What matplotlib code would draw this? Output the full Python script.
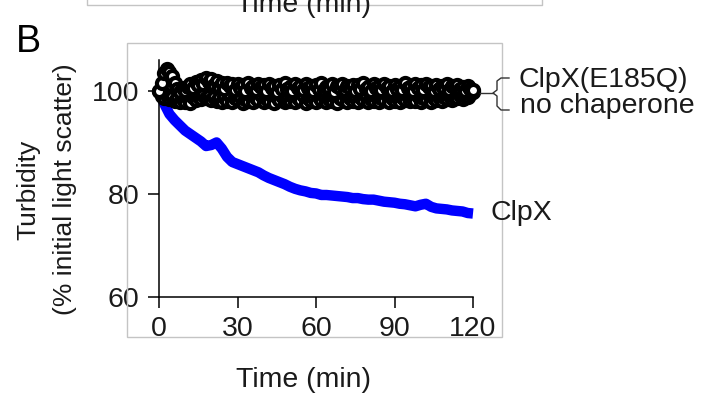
import matplotlib
matplotlib.use("Agg")
import matplotlib.pyplot as plt
from matplotlib.lines import Line2D
from matplotlib.patches import Rectangle
import numpy as np

plt.rcParams['font.family'] = ['Liberation Sans', 'DejaVu Sans']

# ---------------- data ----------------
time_black = list(range(0, 121))
clpx_e185q = [
    100.0, 101.6, 103.4, 104.2, 103.6, 102.9, 101.5, 100.4, 99.8, 100.6, 99.9,
    100.8, 101.3, 100.6, 101.7, 101.1, 102.1, 101.4, 102.5, 101.8, 102.3,
    101.2, 101.9, 100.7, 101.5, 100.4, 101.6, 100.9, 101.3, 100.2, 101.4,
    100.6, 101.2, 99.9, 101.5, 100.5, 101.0, 100.1, 101.3, 100.7, 101.1,
    100.0, 101.4, 100.6, 100.9, 99.8, 101.2, 100.4, 101.5, 100.3, 100.8,
    99.9, 101.3, 100.5, 101.0, 100.2, 101.4, 100.6, 100.9, 99.9, 101.2,
    100.4, 101.5, 100.1, 100.8, 100.5, 101.3, 99.8, 101.0, 100.6, 101.4,
    100.2, 100.9, 100.5, 101.2, 99.9, 101.1, 100.4, 101.5, 100.3, 100.8,
    100.0, 101.3, 100.6, 101.0, 100.2, 101.4, 100.5, 100.9, 99.9, 101.2,
    100.4, 101.0, 100.1, 101.5, 100.6, 100.8, 100.0, 101.3, 100.5, 101.1,
    100.2, 101.4, 100.7, 100.9, 99.9, 101.2, 100.4, 101.0, 100.6, 101.3,
    100.1, 100.9, 100.5, 101.2, 100.3, 100.8, 100.0, 101.0, 100.4, 100.2,
]
no_chaperone = [
    100.0, 99.0, 98.6, 99.3, 98.4, 98.9, 98.1, 98.7, 97.8, 98.5, 97.9,
    98.6, 97.7, 98.8, 98.2, 99.1, 98.4, 99.3, 98.6, 99.0, 98.3,
    98.9, 98.0, 98.7, 97.8, 98.9, 98.1, 99.0, 97.9, 98.6, 98.2,
    99.1, 97.7, 98.5, 98.0, 99.0, 97.8, 98.7, 98.3, 99.2, 97.9,
    98.6, 98.1, 99.0, 97.6, 98.8, 98.2, 99.1, 97.9, 98.5, 98.0,
    99.0, 97.8, 98.7, 98.3, 99.2, 97.7, 98.6, 98.1, 98.9, 97.9,
    98.8, 98.2, 99.1, 97.8, 98.5, 98.0, 99.0, 97.7, 98.7, 98.4,
    99.2, 97.9, 98.6, 98.1, 98.9, 97.8, 98.8, 98.3, 99.1, 97.9,
    98.5, 98.0, 99.0, 97.8, 98.7, 98.2, 99.2, 97.9, 98.6, 98.1,
    98.9, 97.8, 98.8, 98.3, 99.1, 98.0, 98.5, 98.1, 99.0, 97.9,
    98.7, 98.4, 99.2, 97.9, 98.6, 98.2, 98.9, 98.1, 98.8, 98.5,
    99.2, 98.3, 98.7, 98.6, 99.3, 98.5, 99.0, 98.8, 99.4, 99.8,
]
time_blue = list(range(0, 121, 2))
clpx = [
    100.0, 97.5, 95.5, 94.3, 93.3, 92.3, 91.6, 90.9, 90.2, 89.3,
    89.5, 90.0, 88.8, 87.2, 86.2, 85.8, 85.4, 85.0, 84.6, 84.2,
    83.6, 83.1, 82.7, 82.3, 81.9, 81.4, 81.0, 80.7, 80.5, 80.2,
    80.1, 79.8, 79.8, 79.7, 79.6, 79.5, 79.4, 79.2, 79.2, 79.0,
    78.9, 78.9, 78.7, 78.5, 78.4, 78.3, 78.1, 78.0, 77.8, 77.6,
    77.9, 78.1, 77.5, 77.2, 77.1, 77.0, 76.8, 76.7, 76.6, 76.3,
    76.2,
]
xticks = [0, 30, 60, 90, 120]
yticks = [60, 80, 100]

# ---------------- figure ----------------
W, H = 707, 394
fig = plt.figure(figsize=(W / 100, H / 100), dpi=100)

def fx(x):
    return x / W

def fy(y):
    return 1 - y / H

TXT = '#1a1a1a'
FS = 20.5      # horizontal text
FSV = 19       # vertical text

# gray panel boxes
fig.add_artist(Line2D([fx(87), fx(87), fx(542), fx(542)], [fy(-2), fy(5), fy(5), fy(-2)],
                      color='#c4c4c4', lw=1.0, transform=fig.transFigure))
fig.add_artist(Rectangle((fx(127), fy(337)), fx(502) - fx(127), fy(43) - fy(337),
                         fill=False, ec='#c4c4c4', lw=1.0, transform=fig.transFigure))
fig.text(fx(304), fy(12), 'Time (min)', ha='center', va='baseline', fontsize=FS, color=TXT)

fig.text(fx(16), fy(52), 'B', ha='left', va='baseline', fontsize=27, color='black')

ax = fig.add_axes([fx(159), fy(297), fx(473) - fx(159), fy(60) - fy(297)])
ax.set_xlim(0, 120)
ax.set_ylim(60, 106.0)
for s in ['top', 'right']:
    ax.spines[s].set_visible(False)
for s in ['left', 'bottom']:
    ax.spines[s].set_linewidth(1.1)
    ax.spines[s].set_color('black')
ax.patch.set_alpha(0)
ax.set_xticks(xticks)
ax.set_yticks(yticks)
ax.tick_params(axis='both', direction='out', length=8, width=1.1, labelsize=FS,
               labelcolor=TXT, color='black')
ax.tick_params(axis='x', pad=6)
ax.tick_params(axis='y', pad=6)

ax.plot(time_blue, clpx, color='#0000ff', lw=7.5, solid_capstyle='butt',
        solid_joinstyle='round', zorder=2, clip_on=False)
ax.plot(time_black, no_chaperone, 'o', ms=8, mfc='white', mec='black', mew=3.0,
        zorder=3, clip_on=False)
ax.plot(time_black, clpx_e185q, 'o', ms=8, mfc='white', mec='black', mew=3.0,
        zorder=3, clip_on=False)

# labels
fig.text(fx(303), fy(387), 'Time (min)', ha='center', va='baseline', fontsize=FS, color=TXT)
fig.text(fx(28), fy(190), 'Turbidity', ha='center', va='center', rotation=90,
         fontsize=FSV, color=TXT)
fig.text(fx(65), fy(189), '(% initial light scatter)', ha='center', va='center',
         rotation=90, fontsize=FSV, color=TXT)

# annotations
fig.text(fx(519), fy(87), 'ClpX(E185Q)', ha='left', va='baseline', fontsize=FS, color=TXT)
fig.text(fx(520), fy(113), 'no chaperone', ha='left', va='baseline', fontsize=FS, color=TXT)
fig.text(fx(491), fy(220), 'ClpX', ha='left', va='baseline', fontsize=FS, color=TXT)

bx = [509, 501, 497, 497, 493, 497, 497, 501, 509]
by = [78, 78, 81, 90, 93, 96, 106, 110, 110]
fig.add_artist(Line2D([fx(v) for v in bx], [fy(v) for v in by], color='#333333',
                      lw=1.0, transform=fig.transFigure))
fig.add_artist(Line2D([fx(480), fx(493)], [fy(93), fy(93)], color='#333333',
                      lw=1.0, transform=fig.transFigure))

fig.savefig('out.png', dpi=100)
